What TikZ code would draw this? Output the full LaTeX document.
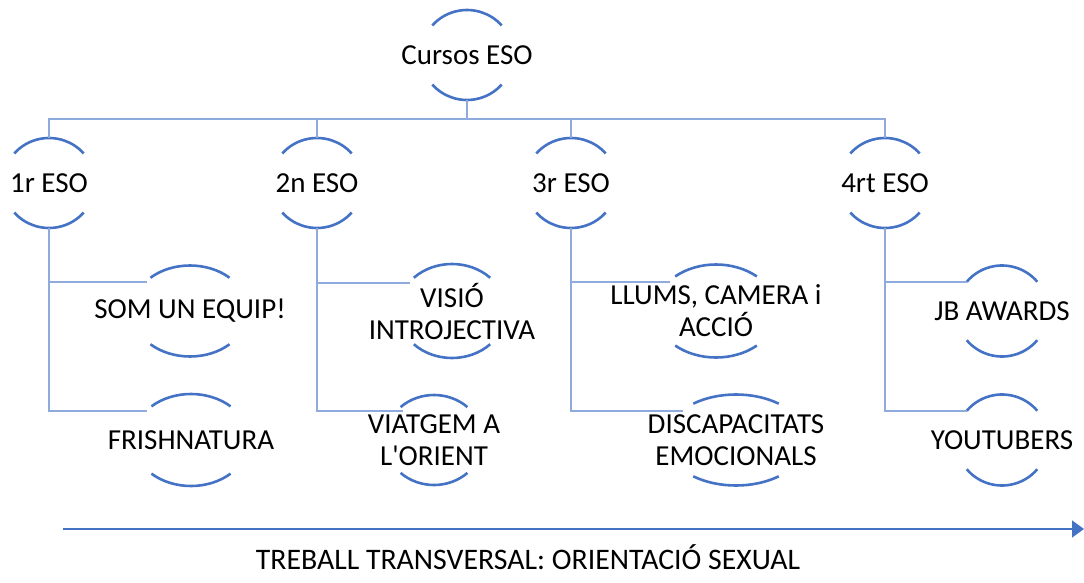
\documentclass[tikz,border=0pt]{standalone}
\usepackage{fontspec}
\setmainfont{Carlito}[Ligatures=TeXOff]
\usetikzlibrary{arrows.meta,shapes.geometric}
\definecolor{arcblue}{RGB}{68,114,196}
\definecolor{connblue}{RGB}{143,170,220}
\newcommand\twoarcs[4]{%
  \draw[arcline] ([shift={({#2*cos(#4)},{#3*sin(#4)})}]#1.center) arc[start angle=#4, end angle=180-#4, x radius=#2pt, y radius=#3pt];
  \draw[arcline] ([shift={({-#2*cos(#4)},{-#3*sin(#4)})}]#1.center) arc[start angle=180+#4, end angle=360-#4, x radius=#2pt, y radius=#3pt];
}
\begin{document}
\begin{tikzpicture}[x=1pt,y=1pt,
  arcline/.style={draw=arcblue,line width=2.6pt},
  conn/.style={draw=connblue,line width=2pt},
  lbl/.style={align=center,inner sep=0pt,font=\fontsize{29}{32}\selectfont,text=black}]
\useasboundingbox (0,0) rectangle (1084,-583);
% nodes
\node[lbl] (root) at (467,-55) {Cursos ESO};
\node[lbl] (a1) at (49,-183) {1r ESO};
\node[lbl] (a2) at (317,-183) {2n ESO};
\node[lbl] (a3) at (571,-183) {3r ESO};
\node[lbl] (a4) at (885,-183) {4rt ESO};
\node[lbl] (c11) at (190,-311) {SOM UN EQUIP!};
\node[lbl] (c12) at (191,-440) {FRISHNATURA};
\node[lbl] (c21) at (452,-311) {VISIÓ\\INTROJECTIVA};
\node[lbl] (c22) at (434,-440) {VIATGEM A\\L'ORIENT};
\node[lbl] (c31) at (716,-311) {LLUMS, CAMERA i\\ACCIÓ};
\node[lbl] (c32) at (736,-440) {DISCAPACITATS\\EMOCIONALS};
\node[lbl] (c41) at (1002,-311) {JB AWARDS};
\node[lbl] (c42) at (1002,-440) {YOUTUBERS};
% arcs
\twoarcs{root}{46}{45}{41}
\twoarcs{a1}{46}{45}{41}
\twoarcs{a2}{46}{45}{41}
\twoarcs{a3}{46}{45}{41}
\twoarcs{a4}{46}{45}{41}
\twoarcs{c11}{58}{45.5}{47}
\twoarcs{c12}{58}{46}{47}
\twoarcs{c21}{54}{47}{45}
\twoarcs{c22}{49}{45}{47}
\twoarcs{c31}{61}{46.5}{48}
\twoarcs{c32}{71}{45.5}{53}
\twoarcs{c41}{46}{45.5}{40}
\twoarcs{c42}{46}{45.5}{40}
% connectors
\coordinate (bus) at (467,-119);
\coordinate (t1) at ([yshift=45pt]a1.center);
\coordinate (t2) at ([yshift=45pt]a2.center);
\coordinate (t3) at ([yshift=45pt]a3.center);
\coordinate (t4) at ([yshift=45pt]a4.center);
\draw[conn] ([yshift=-45pt]root.center) -- (bus);
\draw[conn] (t1) |- (bus) -| (t4);
\draw[conn] (t2) -- (t2 |- bus);
\draw[conn] (t3) -- (t3 |- bus);
\draw[conn] ([yshift=-45pt]a1.center) |- ([shift={(-43,29)}]c11.center);
\draw[conn] ([yshift=-45pt]a1.center) |- ([shift={(-44,29)}]c12.center);
\draw[conn] ([yshift=-45pt]a2.center) |- ([shift={(-42,28)}]c21.center);
\draw[conn] ([yshift=-45pt]a2.center) |- ([shift={(-31,29)}]c22.center);
\draw[conn] ([yshift=-45pt]a3.center) |- ([shift={(-46,29)}]c31.center);
\draw[conn] ([yshift=-45pt]a3.center) |- ([shift={(-53,29)}]c32.center);
\draw[conn] ([yshift=-45pt]a4.center) |- ([shift={(-35,29)}]c41.center);
\draw[conn] ([yshift=-45pt]a4.center) |- ([shift={(-35,29)}]c42.center);
% bottom arrow
\coordinate (as) at (63,-529);
\coordinate (ae) at (1084,-529);
\draw[draw=arcblue,line width=1.5pt,-{Triangle[length=12pt,width=17pt]}] (as) -- (ae);
\node[lbl,font=\fontsize{29.8}{32}\selectfont] (tt) at (528,-557) {TREBALL TRANSVERSAL: ORIENTACIÓ SEXUAL};
\end{tikzpicture}
\end{document}
